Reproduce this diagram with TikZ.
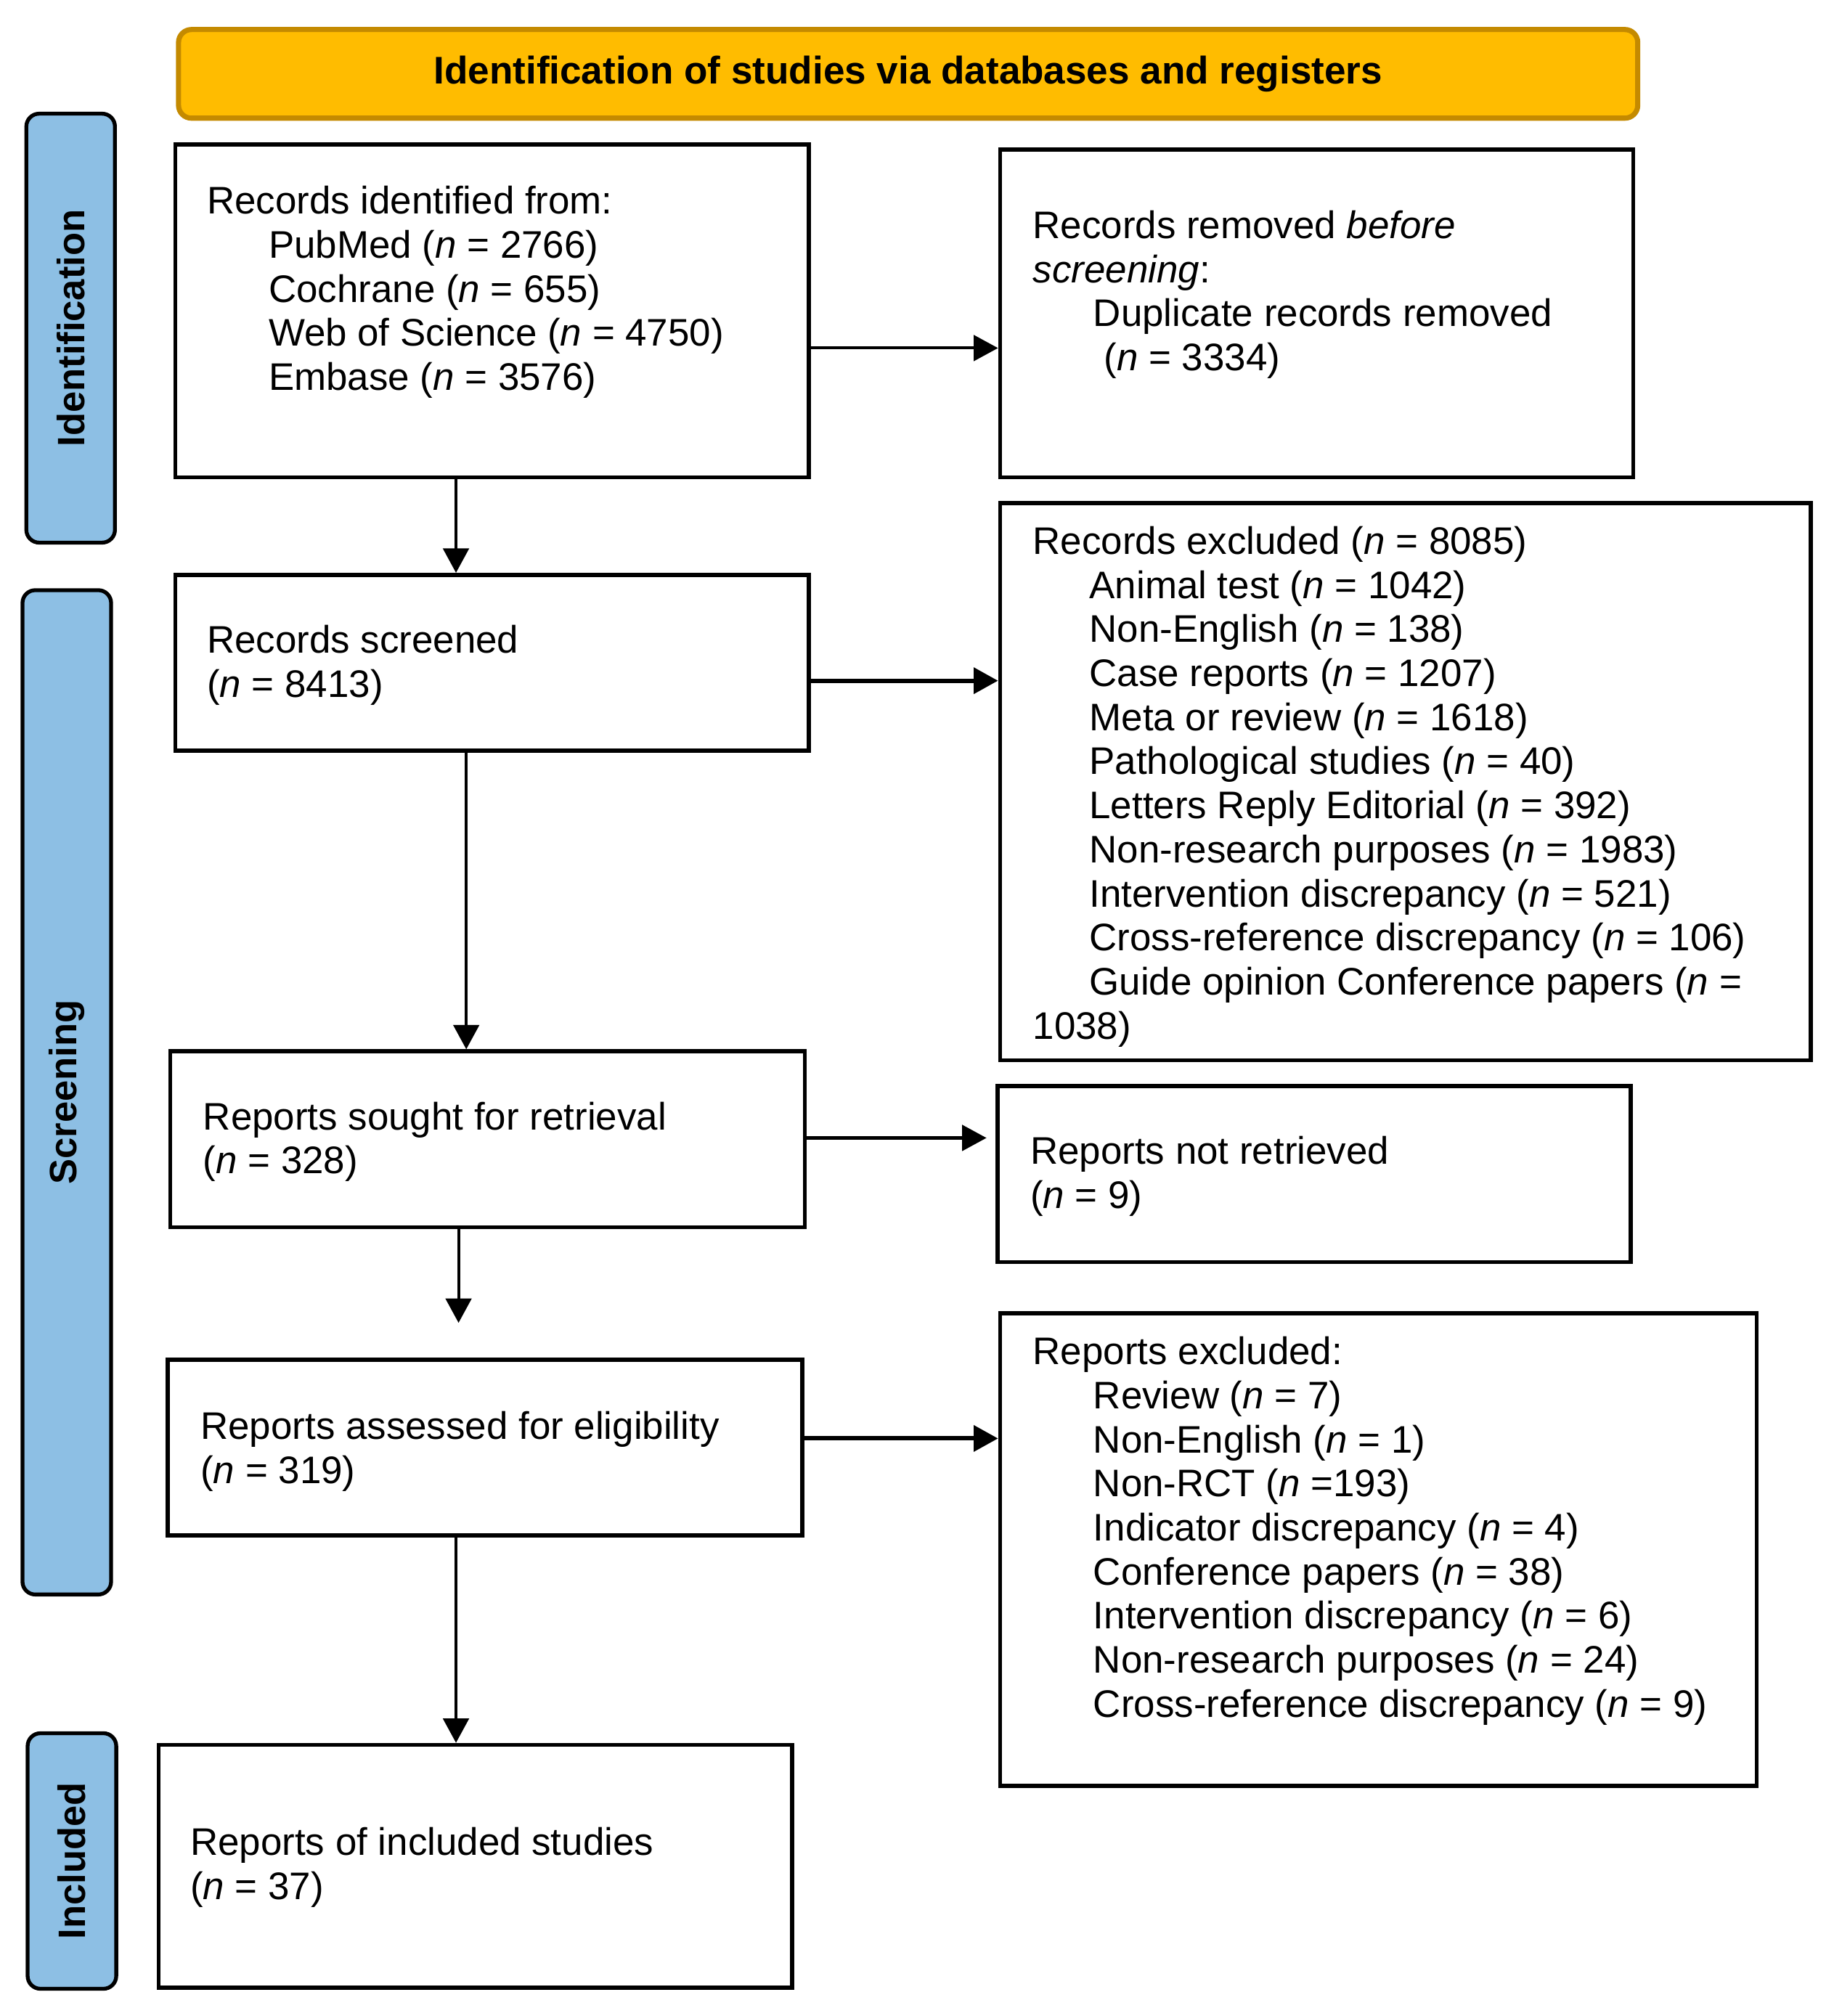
\documentclass[tikz,border=0pt]{standalone}
\usepackage{fontspec}
\setmainfont{Liberation Sans}
\usetikzlibrary{arrows.meta}
\definecolor{hdrfill}{HTML}{FFBC00}
\definecolor{hdrline}{HTML}{C48A00}
\definecolor{tabfill}{HTML}{8DBFE4}
\newcommand\nvar{\textit{n}}
\newcommand\ind[1]{\hspace*{#1pt}}
\begin{document}
\begin{tikzpicture}[x=1pt,y=-1pt,
  boxnode/.style={draw=black, line width=3.2pt, fill=white, anchor=north west, inner sep=0pt},
  tabnode/.style={draw=black, line width=3pt, fill=tabfill, rounded corners=10pt, anchor=north west, inner sep=0pt},
  hdrnode/.style={draw=hdrline, line width=4pt, fill=hdrfill, rounded corners=10pt, anchor=north west, inner sep=0pt},
  txt/.style={anchor=base west, inner sep=0pt, font=\fontsize{29.9}{34.3}\selectfont},
  tablabel/.style={rotate=90, inner sep=0pt, font=\fontsize{29.7}{34.3}\selectfont\bfseries},
  arr/.style={line width=2.3pt, -{Triangle[length=19pt,width=20pt]}},
  arrthick/.style={line width=3.4pt, -{Triangle[length=19pt,width=20pt]}}
]
\fill[white] (0,0) rectangle (1434,1569.7);
\useasboundingbox (0,0) rectangle (1434,1569.7);

% header
\node[hdrnode, minimum width=1136pt, minimum height=69pt] (hdr) at (137,21) {};
\node[inner sep=0pt, font=\fontsize{30}{34.3}\selectfont\bfseries] (hdrt) at (hdr.center) {Identification of studies via databases and registers};

% side tabs
\node[tabnode, minimum width=69pt, minimum height=334pt] (tabI) at (19,87) {};
\node[tablabel] (tabIt) at (tabI.center) {Identification};
\node[tabnode, minimum width=69pt, minimum height=782pt] (tabS) at (16,458) {};
\node[tablabel] (tabSt) at (tabS.center) {Screening};
\node[tabnode, minimum width=69pt, minimum height=199pt] (tabN) at (20,1348) {};
\node[tablabel] (tabNt) at (tabN.center) {Included};

% boxes
\node[boxnode, minimum width=493pt, minimum height=259pt] (b1) at (135,111) {};
\node[boxnode, minimum width=493pt, minimum height=255pt] (b2) at (777,115) {};
\node[boxnode, minimum width=493pt, minimum height=137pt] (b3) at (135,446) {};
\node[boxnode, minimum width=631pt, minimum height=434pt] (b4) at (777,390) {};
\node[boxnode, minimum width=494pt, minimum height=137pt] (b5) at (131,817) {};
\node[boxnode, minimum width=493pt, minimum height=137pt] (b6) at (775,844) {};
\node[boxnode, minimum width=494pt, minimum height=137pt] (b7) at (129,1057) {};
\node[boxnode, minimum width=589pt, minimum height=368pt] (b8) at (777,1021) {};
\node[boxnode, minimum width=493pt, minimum height=189pt] (b9) at (122,1357) {};

% texts
\node[txt] (t1) at (161,166.6) {\parbox[t]{480pt}{Records identified from:\\
\ind{48}PubMed (\nvar{} = 2766)\\
\ind{48}Cochrane (\nvar{} = 655)\\
\ind{48}Web of Science (\nvar{} = 4750)\\
\ind{48}Embase (\nvar{} = 3576)}};
\node[txt] (t2) at (804,185.6) {\parbox[t]{480pt}{Records removed \textit{before}\\
\textit{screening}:\\
\ind{47}Duplicate records removed\\
\ind{47}\ (\nvar{} = 3334)}};
\node[txt] (t3) at (161,508.6) {\parbox[t]{480pt}{Records screened\\(\nvar{} = 8413)}};
\node[txt] (t4) at (804,431.6) {\parbox[t]{620pt}{Records excluded (\nvar{} = 8085)\\
\ind{44}Animal test (\nvar{} = 1042)\\
\ind{44}Non-English (\nvar{} = 138)\\
\ind{44}Case reports (\nvar{} = 1207)\\
\ind{44}Meta or review (\nvar{} = 1618)\\
\ind{44}Pathological studies (\nvar{} = 40)\\
\ind{44}Letters Reply Editorial (\nvar{} = 392)\\
\ind{44}Non-research purposes (\nvar{} = 1983)\\
\ind{44}Intervention discrepancy (\nvar{} = 521)\\
\ind{44}Cross-reference discrepancy (\nvar{} = 106)\\
\ind{44}Guide opinion Conference papers (\nvar{} =\\
1038)}};
\node[txt] (t5) at (158,879.6) {\parbox[t]{480pt}{Reports sought for retrieval\\(\nvar{} = 328)}};
\node[txt] (t6) at (802,906.6) {\parbox[t]{480pt}{Reports not retrieved\\(\nvar{} = 9)}};
\node[txt] (t7) at (156,1120.6) {\parbox[t]{480pt}{Reports assessed for eligibility\\(\nvar{} = 319)}};
\node[txt] (t8) at (804,1062.6) {\parbox[t]{580pt}{Reports excluded:\\
\ind{47}Review (\nvar{} = 7)\\
\ind{47}Non-English (\nvar{} = 1)\\
\ind{47}Non-RCT (\nvar{} =193)\\
\ind{47}Indicator discrepancy (\nvar{} = 4)\\
\ind{47}Conference papers (\nvar{} = 38)\\
\ind{47}Intervention discrepancy (\nvar{} = 6)\\
\ind{47}Non-research purposes (\nvar{} = 24)\\
\ind{47}Cross-reference discrepancy (\nvar{} = 9)}};
\node[txt] (t9) at (148,1444.6) {\parbox[t]{480pt}{Reports of included studies\\(\nvar{} = 37)}};

% helper coordinates
\coordinate (h1) at (0,271);
\coordinate (h3) at (0,530);
\coordinate (h5) at (0,886);
\coordinate (h7) at (0,1120);
\coordinate (v1) at (355,0);
\coordinate (v3) at (363,0);
\coordinate (v5) at (357,0);
\coordinate (v7) at (355,0);

% connectors
\draw[arr] (b1.east |- h1) -- (b2.west |- h1);
\draw[arrthick] (b3.east |- h3) -- (b4.west |- h3);
\draw[arr, shorten >=7pt] (b5.east |- h5) -- (b6.west |- h5);
\draw[arrthick] (b7.east |- h7) -- (b8.west |- h7);
\draw[arr] (b1.south -| v1) -- (b3.north -| v1);
\draw[arr] (b3.south -| v3) -- (b5.north -| v3);
\draw[arr, shorten >=27pt] (b5.south -| v5) -- (b7.north -| v5);
\draw[arr] (b7.south -| v7) -- (b9.north -| v7);
\end{tikzpicture}
\end{document}
